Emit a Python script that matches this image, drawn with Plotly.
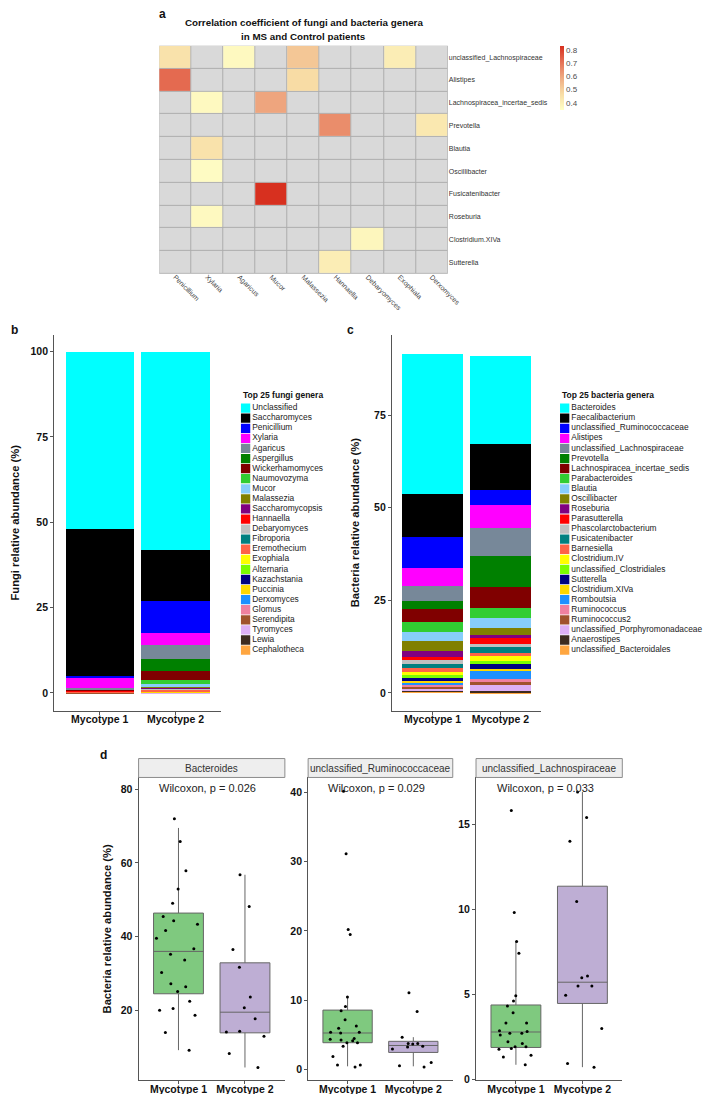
import plotly.graph_objects as go

W, H = 714, 1094
def fx(p):
    return p / W
def fy(p):
    return 1 - p / H

FONT = "Liberation Sans, Arial, sans-serif"

# ---------------- data: panel a (heatmap) ----------------
heat_fungi = ["Penicillium", "Xylaria", "Agaricus", "Mucor", "Malassezia",
              "Hannaella", "Debaryomyces", "Exophiala", "Derxomyces"]
heat_bacteria = ["unclassified_Lachnospiraceae", "Alistipes", "Lachnospiracea_incertae_sedis",
                 "Prevotella", "Blautia", "Oscillibacter", "Fusicatenibacter", "Roseburia",
                 "Clostridium.XIVa", "Sutterella"]
N = None
heat_values = [
    [0.45, N, 0.37, N, 0.52, N, N, 0.41, N],
    [0.72, N, N, N, 0.47, N, N, N, N],
    [N, 0.37, N, 0.60, N, N, N, N, N],
    [N, N, N, N, N, 0.65, N, N, 0.43],
    [N, 0.45, N, N, N, N, N, N, N],
    [N, 0.36, N, N, N, N, N, N, N],
    [N, N, N, 0.83, N, N, N, N, N],
    [N, 0.37, N, N, N, N, N, N, N],
    [N, N, N, N, N, N, 0.38, N, N],
    [N, N, N, N, N, 0.41, N, N, N],
]
heat_ticks = [0.4, 0.5, 0.6, 0.7, 0.8]

# ---------------- data: panel b (fungi) ----------------
groups = ["Mycotype 1", "Mycotype 2"]
fungi_genera = ["Unclassified", "Saccharomyces", "Penicillium", "Xylaria", "Agaricus",
                "Aspergillus", "Wickerhamomyces", "Naumovozyma", "Mucor", "Malassezia",
                "Saccharomycopsis", "Hannaella", "Debaryomyces", "Fibroporia", "Eremothecium",
                "Exophiala", "Alternaria", "Kazachstania", "Puccinia", "Derxomyces",
                "Glomus", "Serendipita", "Tyromyces", "Lewia", "Cephalotheca"]
fungi_m1 = [52.1, 42.9, 0.7, 2.8, 0.4, 0.05, 0.1, 0.05, 0.05, 0.05,
            0.05, 0.05, 0.1, 0.05, 0.15, 0.05, 0.05, 0.02, 0.02, 0.02,
            0.1, 0.03, 0.03, 0.03, 0.03]
fungi_m2 = [58.1, 14.9, 9.4, 3.7, 4.1, 3.3, 2.8, 1.2, 0.7, 0.15,
            0.1, 0.2, 0.15, 0.1, 0.5, 0.05, 0.05, 0.05, 0.1, 0.05,
            0.1, 0.05, 0.05, 0.05, 0.05]

# ---------------- data: panel c (bacteria) ----------------
bact_genera = ["Bacteroides", "Faecalibacterium", "unclassified_Ruminococcaceae", "Alistipes",
               "unclassified_Lachnospiraceae", "Prevotella", "Lachnospiracea_incertae_sedis",
               "Parabacteroides", "Blautia", "Oscillibacter", "Roseburia", "Parasutterella",
               "Phascolarctobacterium", "Fusicatenibacter", "Barnesiella", "Clostridium.IV",
               "unclassified_Clostridiales", "Sutterella", "Clostridium.XIVa", "Romboutsia",
               "Ruminococcus", "Ruminococcus2", "unclassified_Porphyromonadaceae",
               "Anaerostipes", "unclassified_Bacteroidales"]
bact_m1 = [37.8, 11.5, 8.6, 4.8, 4.0, 2.2, 3.4, 2.8, 2.5, 2.7, 1.4, 1.0, 1.1,
           0.9, 1.1, 0.9, 0.7, 0.5, 0.9, 0.4, 0.6, 0.4, 0.4, 0.3, 0.6]
bact_m2 = [24.0, 12.4, 3.9, 6.2, 7.5, 8.5, 5.7, 2.6, 2.7, 2.0, 0.8, 1.7, 0.8,
           1.5, 0.9, 1.2, 1.0, 1.3, 0.6, 2.1, 0.8, 0.8, 1.5, 0.3, 0.3]

palette = ["#00FFFF", "#000000", "#0000FF", "#FF00FF", "#778899", "#008000", "#800000",
           "#32CD32", "#87CEFA", "#808000", "#800080", "#FF0000", "#C0C0C0", "#008080",
           "#FF6347", "#FFFF00", "#7CFC00", "#000080", "#FFD700", "#1E90FF", "#F0809F",
           "#A0522D", "#DDB0F5", "#3D2B1F", "#FFA640"]

# ---------------- data: panel d (boxplots) ----------------
box_titles = ["Bacteroides", "unclassified_Ruminococcaceae", "unclassified_Lachnospiraceae"]
box_pvalues = ["0.026", "0.029", "0.033"]
box_points = [
    [  # Bacteroides
        [72.0, 57.9, 65.8, 52.9, 49.1, 45.5, 44.3, 43.4, 41.7, 39.6, 36.7, 35.2,
         33.7, 27.2, 26.4, 30.3, 25.1, 22.5, 20.0, 20.5, 18.7, 14.0, 9.2],
        [56.8, 48.2, 36.5, 31.7, 23.6, 20.7, 17.7, 14.1, 14.3, 13.0, 8.3, 4.5],
    ],
    [  # unclassified_Ruminococcaceae
        [8.5, 7.2, 10.5, 9.1, 6.3, 6.0, 4.2, 3.9, 5.3, 5.4, 4.5, 4.3, 5.4, 4.4,
         3.9, 3.4, 1.9, 0.7, 0.4, 0.7, 19.5, 20.2, 31.1, 40.1],
        [11.1, 8.4, 3.7, 3.4, 3.8, 3.3, 3.8, 4.7, 3.0, 1.05, 0.4, 0.6],
    ],
    [  # unclassified_Lachnospiraceae
        [9.8, 15.8, 8.1, 7.4, 4.9, 4.6, 4.3, 3.9, 3.3, 3.3, 2.8, 2.7, 2.85, 2.7,
         2.6, 2.2, 2.1, 1.9, 1.9, 1.75, 1.8, 1.4, 1.3, 0.84],
        [16.9, 15.4, 14.0, 10.45, 6.07, 5.96, 5.47, 5.47, 4.94, 2.97, 0.92, 0.7],
    ],
]
# [lowerfence, q1, median, q3, upperfence] per panel and group
box_stats = [
    [[9.2, 24.5, 36.0, 46.4, 69.5], [4.5, 13.9, 19.5, 32.9, 56.8]],
    [[0.5, 3.9, 5.3, 8.6, 10.4], [0.5, 2.5, 3.5, 4.1, 4.7]],
    [[0.84, 1.86, 2.77, 4.36, 8.1], [0.7, 4.45, 5.7, 11.35, 16.9]],
]
box_fill = ["#7FC97F", "#BEAED4"]
box_yticks = [[20, 40, 60, 80], [0, 10, 20, 30, 40], [0, 5, 10, 15]]

fig = go.Figure()

# ---------------- panel a ----------------
fig.add_trace(go.Heatmap(
    z=[[0] * len(heat_fungi) for _ in heat_bacteria], x=heat_fungi, y=heat_bacteria,
    colorscale=[[0, "#D9D9D9"], [1, "#D9D9D9"]], showscale=False, xgap=1, ygap=1,
    hoverinfo="skip", xaxis="x", yaxis="y"))
fig.add_trace(go.Heatmap(
    z=heat_values, x=heat_fungi, y=heat_bacteria, zmin=0.347, zmax=0.83,
    colorscale=[[0, "#FFFFC6"], [0.25, "#F8DDA6"], [0.5, "#EFAB82"], [0.75, "#E57055"], [1, "#D7301F"]],
    xgap=1, ygap=1, xaxis="x", yaxis="y",
    colorbar=dict(x=fx(562), xanchor="left", y=fy(38), yanchor="top", len=64, lenmode="pixels",
                  thickness=4, outlinewidth=0, tickvals=heat_ticks, ticks="", xpad=0, ypad=0,
                  tickfont=dict(size=8, color="#4d4d4d", family=FONT))))

# ---------------- panel b / c stacked bars ----------------
for i in reversed(range(len(fungi_genera))):
    fig.add_trace(go.Bar(x=[1, 2], y=[fungi_m1[i], fungi_m2[i]], marker=dict(color=palette[i], line=dict(width=0)),
                         name=fungi_genera[i], showlegend=False, xaxis="x2", yaxis="y2"))
for i in reversed(range(len(bact_genera))):
    fig.add_trace(go.Bar(x=[1, 2], y=[bact_m1[i], bact_m2[i]], marker=dict(color=palette[i], line=dict(width=0)),
                         name=bact_genera[i], showlegend=False, xaxis="x3", yaxis="y3"))

# legends as keyed scatter
for ax, genera in (("7", fungi_genera), ("8", bact_genera)):
    idx = list(range(len(genera)))
    fig.add_trace(go.Scatter(x=[12] * len(genera), y=idx, mode="markers",
                             marker=dict(symbol="square", size=9.3, color=palette[:len(genera)], line=dict(width=0)),
                             showlegend=False, hoverinfo="skip", xaxis="x" + ax, yaxis="y" + ax))
    fig.add_trace(go.Scatter(x=[18.8] * len(genera), y=idx, mode="text", text=genera,
                             textposition="middle right", textfont=dict(size=8.4, color="#222", family=FONT),
                             showlegend=False, hoverinfo="skip", xaxis="x" + ax, yaxis="y" + ax))

# ---------------- panel d boxplots ----------------
for p in range(3):
    xa, ya = "x%d" % (4 + p), "y%d" % (4 + p)
    for g in range(2):
        lf, q1, med, q3, uf = box_stats[p][g]
        fig.add_trace(go.Box(x=[g + 1], q1=[q1], median=[med], q3=[q3], lowerfence=[lf], upperfence=[uf],
                             width=0.75, fillcolor=box_fill[g], line=dict(color="#666666", width=1),
                             whiskerwidth=0, boxpoints=False, showlegend=False, hoverinfo="skip",
                             xaxis=xa, yaxis=ya))
        pts = box_points[p][g]
        fig.add_trace(go.Box(x=[g + 1] * len(pts), y=pts, width=0.75, boxpoints="all", jitter=1, pointpos=0,
                             fillcolor="rgba(0,0,0,0)", line=dict(color="rgba(0,0,0,0)", width=0),
                             marker=dict(color="black", size=3), showlegend=False, hoverinfo="skip",
                             xaxis=xa, yaxis=ya))

# ---------------- layout ----------------
tickbold = dict(size=10.5, color="#111", family=FONT, weight="bold")
def xcat(domain, anchor):
    return dict(domain=domain, anchor=anchor, range=[0.4, 2.6], tickvals=[1, 2], ticktext=groups,
                showline=True, linecolor="#555", linewidth=1, ticks="outside", ticklen=3, tickcolor="#555",
                showgrid=False, zeroline=False, tickfont=tickbold, ticklabelstandoff=-4)
def ylin(domain, anchor, rng, tv):
    return dict(domain=domain, anchor=anchor, range=rng, tickvals=tv, showline=True, linecolor="#555",
                linewidth=1, ticks="outside", ticklen=3, tickcolor="#555", showgrid=False, zeroline=False,
                tickfont=tickbold)

layout = dict(
    width=W, height=H, margin=dict(l=0, r=0, t=0, b=0), paper_bgcolor="white", plot_bgcolor="rgba(0,0,0,0)",
    font=dict(family=FONT, color="#222"), barmode="stack", bargap=0.1, boxmode="overlay", showlegend=False,
    xaxis=dict(domain=[fx(154), fx(448)], anchor="y", showgrid=False, zeroline=False, ticks="",
               tickangle=45, tickfont=dict(size=7, color="#444", family=FONT), ticklabelstandoff=-3),
    yaxis=dict(domain=[fy(267), fy(38)], anchor="x", side="right", autorange="reversed", showgrid=False,
               zeroline=False, ticks="", tickfont=dict(size=7, color="#333", family=FONT)),
    xaxis2=xcat([fx(47), fx(217)], "y2"),
    yaxis2=ylin([fy(706), fy(328)], "x2", [-5.25, 105], [0, 25, 50, 75, 100]),
    xaxis3=xcat([fx(391), fx(543)], "y3"),
    yaxis3=ylin([fy(706), fy(328)], "x3", [-4.84, 96.8], [0, 25, 50, 75]),
    xaxis4=xcat([fx(133), fx(282)], "y4"),
    yaxis4=ylin([fy(1077), fy(773)], "x4", [1.08, 83.2], box_yticks[0]),
    xaxis5=xcat([fx(305.7), fx(453)], "y5"),
    yaxis5=ylin([fy(1077), fy(773)], "x5", [-1.48, 42.1], box_yticks[1]),
    xaxis6=xcat([fx(476.7), fx(625.7)], "y6"),
    yaxis6=ylin([fy(1077), fy(773)], "x6", [-0.06, 17.75], box_yticks[2]),
    xaxis7=dict(domain=[fx(230), fx(400)], anchor="y7", range=[0, 170], visible=False),
    yaxis7=dict(domain=[fy(650.1), fy(396.9)], anchor="x7", range=[24.5, -0.5], visible=False),
    xaxis8=dict(domain=[fx(555), fx(714)], anchor="y8", range=[0, 159], visible=False),
    yaxis8=dict(domain=[fy(650.1), fy(396.9)], anchor="x8", range=[24.5, -0.5], visible=False),
)
fig.update_layout(**layout)

shapes = [dict(type="rect", xref="x domain", yref="y domain", x0=0, x1=1, y0=0, y1=1,
               fillcolor="#ADADAD", line=dict(width=0), layer="below")]
annotations = []
def ann(text, x, y, size, bold=False, xanchor="center", color="#111", angle=0, xref="paper", yref="paper"):
    annotations.append(dict(text=text, x=x, y=y, xref=xref, yref=yref, showarrow=False, xanchor=xanchor,
                            yanchor="middle", textangle=angle,
                            font=dict(size=size, color=color, family=FONT, weight="bold" if bold else "normal")))

# panel letters
ann("a", fx(157), fy(6), 12, True)
ann("b", fx(7), fy(323), 12, True)
ann("c", fx(349), fy(323), 12, True)
ann("d", fx(97), fy(750), 12, True)
# heatmap title
ann("Correlation coefficient of fungi and bacteria genera", fx(301), fy(15), 9.8, True)
ann("in MS and Control patients", fx(301), fy(28.5), 9.8, True)
# y titles
ann("Fungi relative abundance (%)", fx(7), fy(517), 11.2, True, angle=-90)
ann("Bacteria relative abundance (%)", fx(353), fy(517), 11.2, True, angle=-90)
ann("Bacteria relative abundance (%)", fx(100.5), fy(925), 11.2, True, angle=-90)
# legend titles
ann("Top 25 fungi genera", fx(237), fy(388.5), 8.5, True, xanchor="left")
ann("Top 25 bacteria genera", fx(562), fy(388.5), 8.5, True, xanchor="left")
# strips + wilcoxon labels
for p in range(3):
    xa = "x%d" % (4 + p)
    shapes.append(dict(type="rect", xref=xa + " domain", yref="paper", x0=0, x1=1, y0=fy(773), y1=fy(754),
                       fillcolor="#EEEEEE", line=dict(color="#8C8C8C", width=1)))
    ann(box_titles[p], 0.5, fy(763.5), 10, False, color="#333", xref=xa + " domain")
    ann("Wilcoxon, p = " + box_pvalues[p], 1.44, fy(784), 11, False, color="#222", xref=xa)

fig.update_layout(shapes=shapes, annotations=annotations)
fig.write_html("out.html")
